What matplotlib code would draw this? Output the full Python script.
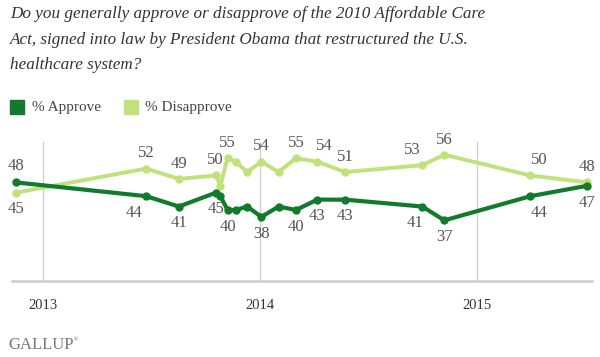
import numpy as np
import pandas as pd
import matplotlib
matplotlib.use("Agg")
import matplotlib.pyplot as plt
import matplotlib.dates as mdates
from matplotlib.patches import Rectangle

# poll dates and results
dates = pd.to_datetime([
    "2012-11-15", "2013-06-23", "2013-08-17", "2013-10-18", "2013-10-26",
    "2013-11-07", "2013-11-21", "2013-12-10", "2014-01-03", "2014-02-01",
    "2014-03-02", "2014-04-07", "2014-05-24", "2014-10-01", "2014-11-07",
    "2015-04-01", "2015-07-05",
])
approve = [48, 44, 41, 45, 44, 40, 40, 41, 38, 41, 40, 43, 43, 41, 37, 44, 47]
disapprove = [45, 52, 49, 50, 47, 55, 54, 51, 54, 51, 55, 54, 51, 53, 56, 50, 48]
labeled = [1, 1, 1, 1, 0, 1, 0, 0, 1, 0, 1, 1, 1, 1, 1, 1, 1]
year_ticks = ["2013", "2014", "2015"]

c_app = "#127a2c"
c_dis = "#bfe27a"
c_txt = "#555555"
serif = ["Liberation Serif", "DejaVu Serif"]

fig = plt.figure(figsize=(6, 3.57), dpi=100)
ax = fig.add_axes([0.02, 0.2137, 0.966, 0.4223])

x = mdates.date2num(dates)
ax.plot(x, disapprove, color=c_dis, lw=2.8, marker="o", ms=5, zorder=3)
ax.plot(x, approve, color=c_app, lw=3.0, marker="o", ms=5, zorder=4)

ax.set_xlim(mdates.date2num(pd.Timestamp("2012-11-09")), mdates.date2num(pd.Timestamp("2015-07-13")))
ax.set_ylim(19.5, 63.2)

# year gridlines
ticks = [mdates.date2num(pd.Timestamp(y + "-01-01")) for y in year_ticks]
for t in ticks:
    ax.axvline(t, ymin=0, ymax=0.922, color="#cccccc", lw=0.9, zorder=1)
ax.set_xticks(ticks)
ax.set_xticklabels(year_ticks, family=serif, fontsize=10.5, color="#333333")
ax.tick_params(axis="x", length=0, pad=13)
ax.set_yticks([])
for s in ["top", "left", "right"]:
    ax.spines[s].set_visible(False)
ax.spines["bottom"].set_color("#cccccc")
ax.spines["bottom"].set_linewidth(1.8)

# horizontal nudges (points) for crowded labels: index -> (approve, disapprove)
nudge = {1: (-9, 0), 11: (0, 5), 13: (-5, -7), 15: (6, 6)}
for i in range(len(dates)):
    if not labeled[i]:
        continue
    dxa, dxd = nudge.get(i, (0, 0))
    a_up = approve[i] > disapprove[i]
    ax.annotate(str(approve[i]), (x[i], approve[i]), xytext=(dxa, 12 if a_up else -12),
                textcoords="offset points", ha="center", va="center",
                family=serif, fontsize=12, color=c_txt, zorder=5)
    ax.annotate(str(disapprove[i]), (x[i], disapprove[i]), xytext=(dxd, -12 if a_up else 11),
                textcoords="offset points", ha="center", va="center",
                family=serif, fontsize=12, color=c_txt, zorder=5)

# title
fig.text(0.017, 0.983,
         "Do you generally approve or disapprove of the 2010 Affordable Care\n"
         "Act, signed into law by President Obama that restructured the U.S.\n"
         "healthcare system?",
         family=serif, style="italic", fontsize=12.3, color="#333333",
         va="top", ha="left", linespacing=1.8)

# legend
H, W = 357.0, 600.0
fig.patches.append(Rectangle((10 / W, 1 - 114 / H), 14 / W, 14 / H,
                             transform=fig.transFigure, color=c_app))
fig.text(32 / W, 1 - 107 / H, "% Approve", family=serif, fontsize=11,
         color="#444444", va="center")
fig.patches.append(Rectangle((124 / W, 1 - 114 / H), 14 / W, 14 / H,
                             transform=fig.transFigure, color=c_dis))
fig.text(145 / W, 1 - 107 / H, "% Disapprove", family=serif, fontsize=11,
         color="#444444", va="center")

# logo
fig.text(8 / W, 1 - 345 / H, "GALLUP", family=serif, fontsize=12,
         color="#777777", va="center")
fig.text(74 / W, 1 - 340 / H, "\u00ae", family=serif, fontsize=4,
         color="#777777", va="center")

fig.savefig("out.png", dpi=100)
